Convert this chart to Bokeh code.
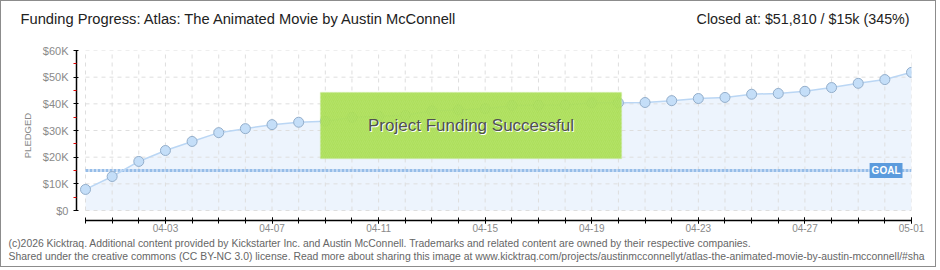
import pandas as pd
from bokeh.plotting import figure
from bokeh.layouts import column
from bokeh.models import Range1d, FixedTicker, Label, BoxAnnotation
from bokeh.core.properties import value
from bokeh.embed import file_html
from bokeh.resources import INLINE

# ---- data ----
dates = ["2025-03-31", "2025-04-01", "2025-04-02", "2025-04-03", "2025-04-04", "2025-04-05",
         "2025-04-06", "2025-04-07", "2025-04-08", "2025-04-09", "2025-04-10", "2025-04-11",
         "2025-04-12", "2025-04-13", "2025-04-14", "2025-04-15", "2025-04-16", "2025-04-17",
         "2025-04-18", "2025-04-19", "2025-04-20", "2025-04-21", "2025-04-22", "2025-04-23",
         "2025-04-24", "2025-04-25", "2025-04-26", "2025-04-27", "2025-04-28", "2025-04-29",
         "2025-04-30", "2025-05-01"]
pledged = [7900, 12750, 18400, 22500, 25900, 29200, 30700, 32200, 33100, 33500, 34900,
           35400, 35700, 37400, 37700, 38200, 39400, 39500, 39600, 40400, 40400, 40500,
           41200, 42000, 42400, 43600, 43900, 44700, 46100, 47700, 49100, 51810]
goal = 15000
x_tick_dates = ["2025-04-03", "2025-04-07", "2025-04-11", "2025-04-15", "2025-04-19",
                "2025-04-23", "2025-04-27", "2025-05-01"]
x_tick_labels = ["04-03", "04-07", "04-11", "04-15", "04-19", "04-23", "04-27", "05-01"]
y_ticks = [0, 10000, 20000, 30000, 40000, 50000, 60000]
y_minor = [5000, 15000, 25000, 35000, 45000, 55000]
y_tick_labels = ["$0", "$10K", "$20K", "$30K", "$40K", "$50K", "$60K"]

title_text = "Funding Progress: Atlas: The Animated Movie by Austin McConnell"
status_text = "Closed at:  $51,810 /  $15k (345%)"
banner_text = "Project Funding Successful"
footer1 = ("(c)2026 Kicktraq. Additional content provided by Kickstarter Inc. and Austin McConnell. "
           "Trademarks and related content are owned by their respective companies.")
footer2 = ("Shared under the creative commons (CC BY-NC 3.0) license. Read more about sharing this image at "
           "www.kicktraq.com/projects/austinmcconnellyt/atlas-the-animated-movie-by-austin-mcconnell/#sha")

# ---- derived ----
ms = [pd.Timestamp(d).value / 1e6 for d in dates]
xt_ms = [pd.Timestamp(d).value / 1e6 for d in x_tick_dates]
day = 86400000.0

W = 934
HEAD_H, MAIN_H, FOOT_H = 35, 202, 28


def text_strip(h):
    f = figure(width=W, height=h, output_backend="svg", toolbar_location=None,
               x_range=Range1d(0, W), y_range=Range1d(h, 0),
               x_axis_location=None, y_axis_location=None, min_border=0)
    f.frame_align = False
    f.xgrid.visible = False
    f.ygrid.visible = False
    f.outline_line_color = None
    f.background_fill_color = "white"
    f.border_fill_color = "white"
    return f


# header
head = text_strip(HEAD_H)
head.text(x=[19], y=[17], text=[title_text], text_baseline="middle", text_color="#222222",
          text_font=value("Liberation Sans"), text_font_size="14.7px")
head.text(x=[916], y=[17], text=[status_text], text_align="right", text_baseline="middle",
          text_color="#222222", text_font=value("Liberation Sans"), text_font_size="14.3px")

# footer
foot = text_strip(FOOT_H)
foot.text(x=[7, 7], y=[5, 18], text=[footer1, footer2], text_baseline="middle",
          text_color="#666666", text_font=value("Liberation Sans"), text_font_size="10.4px")

# main plot
frame_left, frame_right, frame_top, frame_bottom = 75, 910, 14, 184
data_left, data_bottom = 84, 174
px_per_day = (frame_right - data_left) / ((ms[-1] - ms[0]) / day)
x_start = ms[0] - (data_left - frame_left) / px_per_day * day
px_per_unit = (data_bottom - frame_top) / (y_ticks[-1] - y_ticks[0])
y_start = -(frame_bottom - data_bottom) / px_per_unit

p = figure(width=W, height=MAIN_H, x_axis_type="datetime", output_backend="svg",
           toolbar_location=None,
           x_range=Range1d(x_start, ms[-1]), y_range=Range1d(y_start, y_ticks[-1]),
           min_border_left=frame_left, min_border_right=W - frame_right,
           min_border_top=frame_top, min_border_bottom=MAIN_H - frame_bottom)
p.frame_align = False
p.xgrid.visible = False
p.ygrid.visible = False
p.outline_line_color = None
p.background_fill_color = "white"
p.border_fill_color = "white"

grid_col = "#DEDEDE"
p.varea(x=ms, y1=[0] * len(ms), y2=pledged, fill_color="#EDF4FD")
p.segment(x0=ms, y0=[y_ticks[0]] * len(ms), x1=ms, y1=[y_ticks[-1]] * len(ms),
          line_color=grid_col, line_dash="4 4", line_width=1)
p.segment(x0=[ms[0]] * len(y_ticks), y0=y_ticks, x1=[ms[-1]] * len(y_ticks), y1=y_ticks,
          line_color=grid_col, line_dash="4 4", line_width=1)

p.line([ms[0], ms[-1]], [goal, goal], line_color="#96BDE8", line_width=3, line_dash="3 1")

p.line(ms, pledged, line_color="#BAD6F4", line_width=1.5)
p.scatter(ms, pledged, size=10, fill_color="#C4DEF8", line_color="#93AECB", line_width=1)

xa = p.xaxis[0]
xa.ticker = FixedTicker(ticks=xt_ms, minor_ticks=ms)
xa.major_label_overrides = {t: lab for t, lab in zip(xt_ms, x_tick_labels)}
xa.bounds = (ms[0], ms[-1])
xa.axis_line_color = "black"
xa.axis_line_width = 1.5
xa.major_tick_line_color = "black"
xa.minor_tick_line_color = "black"
xa.major_tick_in = 3
xa.major_tick_out = 3
xa.minor_tick_in = 3
xa.minor_tick_out = 3
xa.major_label_text_font = "Liberation Sans"
xa.major_label_text_font_size = "10px"
xa.major_label_text_color = "#8A8A8A"
xa.major_label_standoff = 0

ya = p.yaxis[0]
ya.ticker = FixedTicker(ticks=y_ticks, minor_ticks=y_minor)
ya.major_label_overrides = {t: lab for t, lab in zip(y_ticks, y_tick_labels)}
ya.bounds = (y_ticks[0], y_ticks[-1])
ya.axis_line_color = "black"
ya.axis_line_width = 1.5
ya.major_tick_line_color = "black"
ya.minor_tick_line_color = "#E00000"
ya.major_tick_in = 2
ya.major_tick_out = 3
ya.minor_tick_in = 0
ya.minor_tick_out = 3
ya.major_label_text_font = "Liberation Sans"
ya.major_label_text_font_size = "11px"
ya.major_label_text_color = "#8A8A8A"
ya.major_label_standoff = 5
ya.axis_label = "PLEDGED"
ya.axis_label_text_font = "Liberation Sans"
ya.axis_label_text_font_size = "9.5px"
ya.axis_label_text_font_style = "normal"
ya.axis_label_text_color = "#8A8A8A"
ya.axis_label_standoff = 7

p.add_layout(Label(x=ms[-1], y=goal, x_offset=-9, text="GOAL", text_align="right",
                   text_baseline="middle", text_color="white", text_font="Liberation Sans",
                   text_font_size="10px", text_font_style="bold",
                   background_fill_color="#5B9BDD", padding=2))

# success banner (canvas position of the overlay)
bx0, bx1, by0, by1 = 319, 620, 56, 122
p.add_layout(BoxAnnotation(left=bx0, right=bx1, top=by0, bottom=by1,
                           left_units="canvas", right_units="canvas",
                           top_units="canvas", bottom_units="canvas",
                           fill_color="#A8DD50", fill_alpha=0.93,
                           hatch_pattern="/", hatch_color="#B8E56E", hatch_alpha=0.6,
                           hatch_scale=4, hatch_weight=1,
                           line_color="#C5E98D", line_width=1.5))
cx, cy = (bx0 + bx1) / 2, (by0 + by1) / 2
p.add_layout(Label(x=cx + 1, y=cy + 1, x_units="canvas", y_units="canvas", text=banner_text,
                   text_align="center", text_baseline="middle", text_color="white",
                   text_font="Liberation Sans", text_font_size="17px"))
p.add_layout(Label(x=cx, y=cy, x_units="canvas", y_units="canvas", text=banner_text,
                   text_align="center", text_baseline="middle", text_color="#505050",
                   text_font="Liberation Sans", text_font_size="17px"))

layout = column(head, p, foot, spacing=0,
                styles={"border": "1px solid #8C8C8C"})

open("out.html", "w").write(file_html(layout, INLINE))
